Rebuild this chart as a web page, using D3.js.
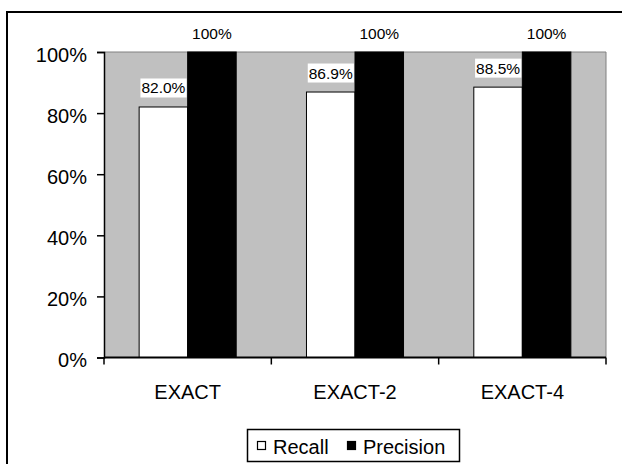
<!DOCTYPE html>
<html><head><meta charset="utf-8">
<script src="https://cdn.jsdelivr.net/npm/d3@7"></script>
<style>body{margin:0;background:#fff}svg{display:block;font-family:Arial,"Liberation Sans",sans-serif}</style>
</head><body>
<script>
const categories = ["EXACT", "EXACT-2", "EXACT-4"];
const seriesNames = ["Recall", "Precision"];
const recall = [0.820, 0.869, 0.885];
const precision = [1.00, 1.00, 1.00];
const recallLabels = ["82.0%", "86.9%", "88.5%"];
const precisionLabels = ["100%", "100%", "100%"];
const yTicks = [0, 0.2, 0.4, 0.6, 0.8, 1.0];

const W = 622, H = 464;
const plot = {left: 104, right: 606, top: 52, bottom: 357.5};
const svg = d3.select("body").append("svg").attr("width", W).attr("height", H);

// outer frame (extends beyond right/bottom edge)
svg.append("rect").attr("x", 7).attr("y", 12).attr("width", 640).attr("height", 480)
  .attr("fill", "none").attr("stroke", "#000").attr("stroke-width", 2);

const x0 = d3.scaleBand().domain(categories).range([plot.left, plot.right]).paddingInner(0.42).paddingOuter(0.21);
const x1 = d3.scaleBand().domain(seriesNames).range([0, x0.bandwidth()]);
const y = d3.scaleLinear().domain([0, 1]).range([plot.bottom, plot.top]);

// plot background
svg.append("rect").attr("x", plot.left).attr("y", plot.top)
  .attr("width", plot.right - plot.left).attr("height", plot.bottom - plot.top).attr("fill", "#c0c0c0");
svg.append("path").attr("d", `M${plot.left},${plot.top}H${plot.right}V${plot.bottom}`)
  .attr("fill", "none").attr("stroke", "#808080").attr("stroke-width", 1);

const data = categories.map((c, i) => ({c, vals: [
  {s: "Recall", v: recall[i], lab: recallLabels[i]},
  {s: "Precision", v: precision[i], lab: precisionLabels[i]}]}));

const g = svg.selectAll("g.cat").data(data).join("g").attr("class", "cat")
  .attr("transform", d => `translate(${x0(d.c)},0)`);
g.selectAll("rect.bar").data(d => d.vals).join("rect").attr("class", "bar")
  .attr("x", d => x1(d.s)).attr("width", x1.bandwidth())
  .attr("y", d => y(d.v)).attr("height", d => y(0) - y(d.v))
  .attr("fill", d => d.s === "Recall" ? "#fff" : "#000")
  .attr("stroke", "#000").attr("stroke-width", 1);

// labels
g.each(function(d) {
  const gg = d3.select(this);
  d.vals.forEach(v => {
    const cx = x1(v.s) + x1.bandwidth() / 2;
    const ty = y(v.v) - 13.5;
    const t = gg.append("text").attr("x", cx).attr("y", ty)
      .attr("text-anchor", "middle").attr("font-size", 15.5).attr("fill", "#000").text(v.lab);
    if (v.s === "Recall") {
      const bb = t.node().getBBox();
      gg.insert("rect", "text").attr("x", bb.x - 1).attr("y", bb.y - 1)
        .attr("width", bb.width + 2).attr("height", bb.height + 2).attr("fill", "#fff");
      t.raise();
    }
  });
});

// y axis
const yAxis = d3.axisLeft(y).tickValues(yTicks).tickFormat(d3.format(".0%")).tickSize(7).tickPadding(10);
const ya = svg.append("g").attr("transform", `translate(${plot.left},0)`).call(yAxis);
ya.select(".domain").attr("stroke", "#000").attr("stroke-width", 1.5);
ya.selectAll(".tick line").attr("stroke", "#000").attr("stroke-width", 1.5);
ya.selectAll(".tick text").attr("font-size", 20).attr("font-family", "Arial, 'Liberation Sans', sans-serif")
  .attr("fill", "#000").attr("dy", "0.45em");

// x axis
const xa = svg.append("g").attr("transform", `translate(0,${plot.bottom})`);
xa.append("line").attr("x1", plot.left).attr("x2", plot.right).attr("stroke", "#000").attr("stroke-width", 2);
xa.selectAll("line.tk").data(d3.range(categories.length + 1)).join("line").attr("class", "tk")
  .attr("x1", i => plot.left + i * (plot.right - plot.left) / categories.length)
  .attr("x2", i => plot.left + i * (plot.right - plot.left) / categories.length)
  .attr("y1", 0).attr("y2", 7).attr("stroke", "#000").attr("stroke-width", 1.5);
xa.selectAll("text").data(categories).join("text")
  .attr("x", d => x0(d) + x0.bandwidth() / 2).attr("y", 41)
  .attr("text-anchor", "middle").attr("font-size", 20).attr("fill", "#000").text(d => d);

// legend
const lg = svg.append("g");
lg.append("rect").attr("x", 247.5).attr("y", 429.5).attr("width", 212).attr("height", 32)
  .attr("fill", "#fff").attr("stroke", "#000").attr("stroke-width", 1.5);
const items = [{s: "Recall", x: 257, fill: "#fff"}, {s: "Precision", x: 347, fill: "#000"}];
items.forEach(it => {
  lg.append("rect").attr("x", it.x + 0.5).attr("y", 441.5).attr("width", 8).attr("height", 8)
    .attr("fill", it.fill).attr("stroke", "#000").attr("stroke-width", 1.2);
  lg.append("text").attr("x", it.x + 16).attr("y", 454).attr("font-size", 20).attr("fill", "#000").text(it.s);
});
</script>
</body></html>
